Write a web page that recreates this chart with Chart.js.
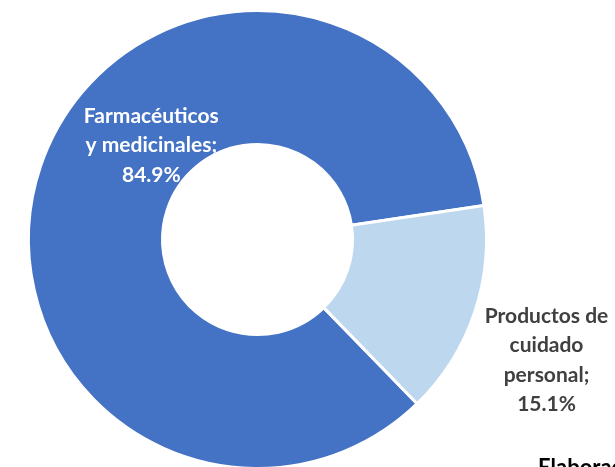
<!DOCTYPE html>
<html>
<head>
<meta charset="utf-8">
<script src="https://cdn.jsdelivr.net/npm/chart.js@4/dist/chart.umd.min.js"></script>
<style>
  html, body { margin: 0; padding: 0; background: #ffffff; overflow: hidden; }
  #wrap { position: relative; width: 615px; height: 480px; }
</style>
</head>
<body>
<div id="wrap"><canvas id="c" width="615" height="480"></canvas></div>
<script>
// Category names (wrapped as they appear in the labels) and their shares, in percent
const categories = ['Farmacéuticos y medicinales', 'Productos de cuidado personal'];
const categoryLines = [['Farmacéuticos', 'y medicinales;'], ['Productos de', 'cuidado', 'personal;']];
const shares = [84.9, 15.1];
const sliceColors = ['#4472C4', '#BDD7EE'];
const sourceNote = 'Elaboración propia.';

// Label placement per slice: angle in degrees (canvas, clockwise from 3 o'clock),
// distance as a fraction of the outer radius, text colour
const labelAngles = [221.6, 22.7];
const labelDistances = [0.62, 1.368];
const labelColors = ['#FFFFFF', '#404040'];

const sliceLabels = {
  id: 'sliceLabels',
  afterDatasetsDraw(chart) {
    const ctx = chart.ctx;
    const meta = chart.getDatasetMeta(0);
    const values = chart.data.datasets[0].data;
    ctx.save();
    ctx.font = 'bold 21px Lato';
    ctx.textAlign = 'center';
    ctx.textBaseline = 'middle';
    const lineH = 29.5;
    meta.data.forEach((arc, i) => {
      const r = arc.outerRadius * labelDistances[i];
      const a = labelAngles[i] * Math.PI / 180;
      const cx = arc.x + Math.cos(a) * r;
      const cy = arc.y + Math.sin(a) * r;
      const lines = categoryLines[i].concat([values[i].toFixed(1) + '%']);
      const top = cy - (lines.length - 1) * lineH / 2;
      ctx.fillStyle = labelColors[i];
      lines.forEach((t, k) => ctx.fillText(t, cx, top + k * lineH));
    });
    ctx.restore();
  }
};

const sourceText = {
  id: 'sourceText',
  afterDraw(chart) {
    const ctx = chart.ctx;
    ctx.save();
    ctx.font = 'bold 22px Lato';
    ctx.fillStyle = '#000000';
    ctx.textAlign = 'left';
    ctx.textBaseline = 'top';
    ctx.fillText(sourceNote, 538, 457);
    ctx.restore();
  }
};

new Chart(document.getElementById('c'), {
  type: 'doughnut',
  data: {
    labels: categories,
    datasets: [{
      data: shares,
      backgroundColor: sliceColors,
      borderColor: '#FFFFFF',
      borderWidth: 3,
      hoverOffset: 0
    }]
  },
  options: {
    responsive: false,
    animation: false,
    cutout: '41.5%',
    rotation: 135.8,
    layout: { padding: { left: 27, right: 127, top: 9, bottom: 10 } },
    plugins: {
      legend: { display: false },
      tooltip: { enabled: false },
      title: { display: false }
    }
  },
  plugins: [sliceLabels, sourceText]
});
</script>
</body>
</html>
